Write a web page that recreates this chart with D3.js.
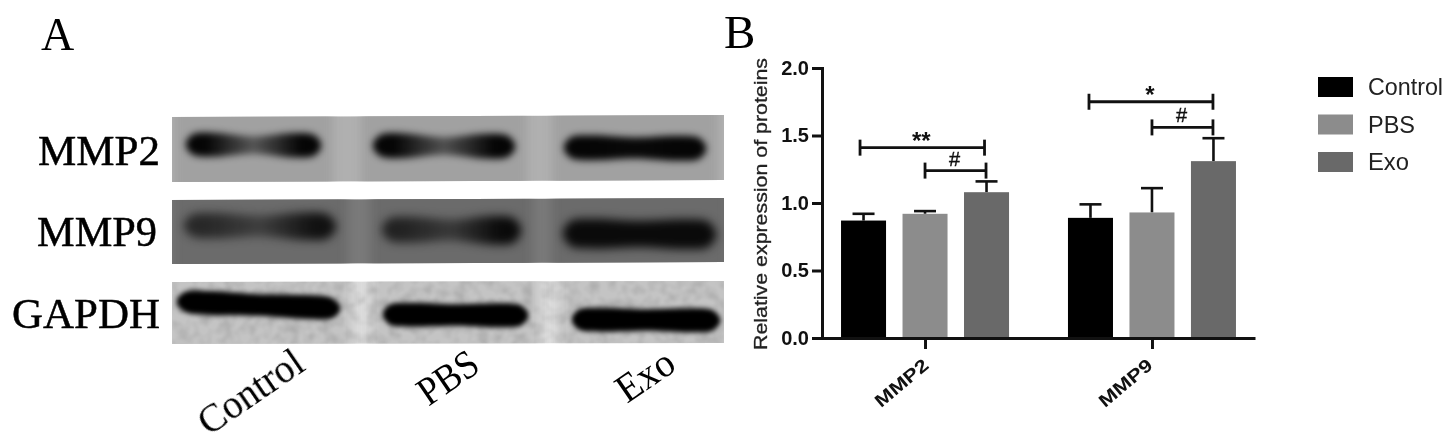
<!DOCTYPE html>
<html>
<head>
<meta charset="utf-8">
<script src="https://cdn.jsdelivr.net/npm/d3@7"></script>
<style>
html, body { margin: 0; padding: 0; background: #fff; }
svg { display: block; }
filter { color-interpolation-filters: sRGB; }
</style>
</head>
<body>
<div id="chart"></div>
<script>
// bar chart values
var proteins = ["MMP2", "MMP9"];
var groups = ["Control", "PBS", "Exo"];
var controlValues = [0.87, 0.89];
var pbsValues = [0.92, 0.93];
var exoValues = [1.08, 1.31];
var controlErrors = [0.05, 0.10];
var pbsErrors = [0.02, 0.18];
var exoErrors = [0.08, 0.17];
var groupColors = ["#000000", "#8c8c8c", "#696969"];
var yTicks = [0, 0.5, 1, 1.5, 2];

// significance brackets: protein, from group, level, mark
var bracketProteins = ["MMP2", "MMP2", "MMP9", "MMP9"];
var bracketFrom = ["Control", "PBS", "Control", "PBS"];
var bracketLevels = [1.41, 1.24, 1.75, 1.56];
var bracketMarks = ["**", "#", "*", "#"];

// blot band strength at left, middle and right of each lane (0-1)
var mmp2Bands = [[0.9, 0.42, 0.95], [1, 0.45, 1], [1, 0.85, 1]];
var mmp9Bands = [[0.6, 0.4, 0.8], [0.65, 0.45, 0.9], [1, 0.95, 1]];
var gapdhBands = [[1, 1, 1], [1, 1, 1], [1, 1, 1]];

var width = 1451,
    height = 445;

var svg = d3.select("#chart")
    .append("svg")
    .attr("width", width)
    .attr("height", height);

var defs = svg.append("defs");
defs.append("filter").attr("id", "soft")
    .attr("x", "-5%").attr("y", "-5%").attr("width", "110%").attr("height", "110%")
    .append("feGaussianBlur").attr("stdDeviation", 0.6);
defs.append("filter").attr("id", "patchBlur")
    .attr("x", "-20%").attr("y", "-20%").attr("width", "140%").attr("height", "140%")
    .append("feGaussianBlur").attr("stdDeviation", 5);
var grain = defs.append("filter").attr("id", "grain")
    .attr("x", "0").attr("y", "0").attr("width", "100%").attr("height", "100%");
grain.append("feTurbulence").attr("type", "fractalNoise")
    .attr("baseFrequency", 0.09).attr("numOctaves", 2).attr("seed", 4);
grain.append("feColorMatrix").attr("type", "matrix")
    .attr("values", "0 0 0 0 0  0 0 0 0 0  0 0 0 0 0  0 0 0 1.6 -0.62");
grain.append("feGaussianBlur").attr("stdDeviation", 1);

// panel A: blots
var panelA = svg.append("g").attr("filter", "url(#soft)");

var blots = [
    {name: "MMP2", bands: mmp2Bands, bg: "#b0b0b0", patch: "#a1a1a1", top: 117, bottom: 182, tilt: 2, blur: 3.6,
        cy: [145, 146, 148], x0: [186, 373, 564], x1: [321, 515, 706], maxT: 25, ink: "#050505",
        labelX: 160, labelY: 165, labelLen: 122},
    {name: "MMP9", bands: mmp9Bands, bg: "#7a7a7a", patch: "#6b6b6b", top: 200, bottom: 264, tilt: 2, blur: 5,
        cy: [226, 230, 234], x0: [184, 382, 563], x1: [336, 521, 716], maxT: 30, ink: "#0a0a0a",
        labelX: 157, labelY: 246, labelLen: 120},
    {name: "GAPDH", bands: gapdhBands, bg: "#dcdcdc", patch: "#c4c4c4", top: 282, bottom: 344, tilt: 1, blur: 2.4,
        cy: [305, 315, 320], x0: [177, 383, 572], x1: [340, 528, 720], maxT: 24, ink: "#000000",
        labelX: 160, labelY: 328, labelLen: 148}
];

var bandArea = d3.area()
    .x(function (d) { return d.x; })
    .y0(function (d) { return d.y - d.t / 2; })
    .y1(function (d) { return d.y + d.t / 2; })
    .curve(d3.curveCatmullRom);

blots.forEach(function (blot, b) {
    var outline = "M172," + blot.top + "L724," + (blot.top - blot.tilt) + "L724," + (blot.bottom - blot.tilt) + "L172," + blot.bottom + "Z";
    var g = panelA.append("g");
    g.append("path").attr("d", outline).attr("fill", blot.bg);

    var clipId = "clip" + b;
    defs.append("clipPath").attr("id", clipId).append("path").attr("d", outline);
    defs.append("filter").attr("id", "bandBlur" + b)
        .attr("x", "-20%").attr("y", "-80%").attr("width", "140%").attr("height", "260%")
        .append("feGaussianBlur").attr("stdDeviation", blot.blur);

    var inner = g.append("g").attr("clip-path", "url(#" + clipId + ")");

    inner.selectAll("rect.patch")
        .data(blot.bands)
        .enter()
        .append("rect")
        .attr("class", "patch")
        .attr("x", function (d, i) { return blot.x0[i] - 12; })
        .attr("y", blot.top - 12)
        .attr("width", function (d, i) { return blot.x1[i] - blot.x0[i] + 24; })
        .attr("height", blot.bottom - blot.top + 24)
        .attr("fill", blot.patch)
        .attr("filter", "url(#patchBlur)");

    if (blot.name == "GAPDH") {
        inner.append("rect")
            .attr("x", 172).attr("y", blot.top - 2)
            .attr("width", 552).attr("height", blot.bottom - blot.top + 2)
            .attr("fill", "#000").attr("opacity", 0.16)
            .attr("filter", "url(#grain)");
    }

    // darker band ends, paler waist
    blot.bands.forEach(function (d, i) {
        var gradId = "band" + b + "_" + i;
        var grad = defs.append("linearGradient").attr("id", gradId);
        [[0.15, d[0]], [0.5, d[1]], [0.85, d[2]]].forEach(function (s) {
            grad.append("stop")
                .attr("offset", s[0])
                .attr("stop-color", blot.ink)
                .attr("stop-opacity", Math.min(1, s[1] * 1.15));
        });
    });

    inner.selectAll("path.band")
        .data(blot.bands)
        .enter()
        .append("path")
        .attr("class", "band")
        .attr("d", function (d, i) {
            var x0 = blot.x0[i], x1 = blot.x1[i], w = x1 - x0;
            var slope = blot.name == "GAPDH" && i == 0 ? 7 : 1;
            var thick = function (s) { return (0.6 + 0.4 * s) * blot.maxT; };
            return bandArea([
                {x: x0, y: blot.cy[i] - slope * 0.5, t: 6},
                {x: x0 + w * 0.05, y: blot.cy[i] - slope * 0.45, t: thick(d[0]) * 0.85},
                {x: x0 + w * 0.2, y: blot.cy[i] - slope * 0.3, t: thick(d[0])},
                {x: x0 + w * 0.5, y: blot.cy[i], t: thick(d[1]) * 0.9},
                {x: x0 + w * 0.8, y: blot.cy[i] + slope * 0.3, t: thick(d[2])},
                {x: x0 + w * 0.95, y: blot.cy[i] + slope * 0.45, t: thick(d[2]) * 0.85},
                {x: x1, y: blot.cy[i] + slope * 0.5, t: 6}
            ]);
        })
        .attr("fill", function (d, i) { return "url(#band" + b + "_" + i + ")"; })
        .attr("filter", "url(#bandBlur" + b + ")");

    panelA.append("text")
        .attr("x", blot.labelX)
        .attr("y", blot.labelY)
        .attr("text-anchor", "end")
        .attr("font-family", "Liberation Serif")
        .attr("font-size", 42)
        .attr("textLength", blot.labelLen)
        .attr("lengthAdjust", "spacingAndGlyphs")
        .attr("fill", "#000")
        .attr("stroke", "#000")
        .attr("stroke-width", 0.5)
        .text(blot.name);
});

panelA.append("text")
    .attr("x", 41).attr("y", 50)
    .attr("font-family", "Liberation Serif").attr("font-size", 46)
    .attr("fill", "#000").text("A");

var laneLabelX = [307, 482, 678];
var laneLabelY = [369, 370, 369];
var laneLabelLen = [119, 65, 62];
panelA.selectAll("text.lane")
    .data(groups)
    .enter()
    .append("text")
    .attr("class", "lane")
    .attr("transform", function (d, i) {
        return "translate(" + laneLabelX[i] + "," + laneLabelY[i] + ") rotate(-34.5)";
    })
    .attr("text-anchor", "end")
    .attr("font-family", "Liberation Serif")
    .attr("font-size", 40)
    .attr("textLength", function (d, i) { return laneLabelLen[i]; })
    .attr("lengthAdjust", "spacingAndGlyphs")
    .attr("fill", "#000")
    .text(function (d) { return d; });

// panel B: bars
var panelB = svg.append("g").attr("filter", "url(#soft)");

panelB.append("text")
    .attr("x", 724).attr("y", 48)
    .attr("font-family", "Liberation Serif").attr("font-size", 47)
    .attr("fill", "#000").text("B");

var y = d3.scaleLinear().domain([0, 2]).range([338, 68]);
var x = d3.scalePoint().domain(proteins).range([822, 1255]).padding(0.454);
var xGroup = d3.scaleBand().domain(groups).range([-84, 84]).paddingInner(0.268);

var seriesValues = [controlValues, pbsValues, exoValues];
var seriesErrors = [controlErrors, pbsErrors, exoErrors];
var bars = [];
groups.forEach(function (group, g) {
    proteins.forEach(function (protein, p) {
        bars.push({group: group, protein: protein, color: groupColors[g],
            value: seriesValues[g][p], error: seriesErrors[g][p]});
    });
});

function barCenter(protein, group) {
    return x(protein) + xGroup(group) + xGroup.bandwidth() / 2;
}

panelB.selectAll("line.stem")
    .data(bars)
    .enter()
    .append("line")
    .attr("class", "stem")
    .attr("x1", function (d) { return barCenter(d.protein, d.group); })
    .attr("x2", function (d) { return barCenter(d.protein, d.group); })
    .attr("y1", function (d) { return y(d.value); })
    .attr("y2", function (d) { return y(d.value + d.error); })
    .attr("stroke", "#111")
    .attr("stroke-width", 2.6);

panelB.selectAll("line.cap")
    .data(bars)
    .enter()
    .append("line")
    .attr("class", "cap")
    .attr("x1", function (d) { return barCenter(d.protein, d.group) - 11; })
    .attr("x2", function (d) { return barCenter(d.protein, d.group) + 11; })
    .attr("y1", function (d) { return y(d.value + d.error); })
    .attr("y2", function (d) { return y(d.value + d.error); })
    .attr("stroke", "#111")
    .attr("stroke-width", 2.6);

panelB.selectAll("rect.bar")
    .data(bars)
    .enter()
    .append("rect")
    .attr("class", "bar")
    .attr("x", function (d) { return x(d.protein) + xGroup(d.group); })
    .attr("y", function (d) { return y(d.value); })
    .attr("width", xGroup.bandwidth())
    .attr("height", function (d) { return y(0) - y(d.value); })
    .attr("fill", function (d) { return d.color; });

var yAxis = d3.axisLeft(y)
    .tickValues(yTicks)
    .tickFormat(d3.format(".1f"))
    .tickSize(10)
    .tickPadding(3);
var xAxis = d3.axisBottom(x).tickSize(11).tickSizeOuter(0).tickFormat("");

panelB.append("g")
    .attr("transform", "translate(822,0)")
    .call(yAxis)
    .call(function (g) {
        g.selectAll("line, path").attr("stroke", "#111").attr("stroke-width", 3);
        g.selectAll("text")
            .attr("font-family", "Liberation Sans")
            .attr("font-weight", "bold")
            .attr("font-size", 20)
            .attr("fill", "#111");
    });

panelB.append("g")
    .attr("transform", "translate(0,338)")
    .call(xAxis)
    .call(function (g) {
        g.selectAll("line, path").attr("stroke", "#111").attr("stroke-width", 3);
    });

var proteinLabelShift = [5, 2];
panelB.selectAll("text.protein")
    .data(proteins)
    .enter()
    .append("text")
    .attr("class", "protein")
    .attr("transform", function (d, i) { return "translate(" + (x(d) + proteinLabelShift[i]) + ",367) rotate(-40)"; })
    .attr("text-anchor", "end")
    .attr("font-family", "Liberation Sans")
    .attr("font-weight", "bold")
    .attr("font-size", 18)
    .attr("textLength", 64)
    .attr("lengthAdjust", "spacingAndGlyphs")
    .attr("fill", "#111")
    .text(function (d) { return d; });

panelB.append("text")
    .attr("transform", "translate(767,350) rotate(-90)")
    .attr("font-family", "Liberation Sans")
    .attr("font-size", 19)
    .attr("textLength", 292)
    .attr("lengthAdjust", "spacingAndGlyphs")
    .attr("fill", "#222")
    .attr("stroke", "#222")
    .attr("stroke-width", 0.3)
    .text("Relative expression of proteins");

// significance brackets run to the Exo bar of the same protein
var bracketStartShift = [-3.5, 0, -1.5, 0];
var bracketEndShift = [-2, -0.5, -0.5, -0.5];
bracketLevels.forEach(function (level, i) {
    var x0 = barCenter(bracketProteins[i], bracketFrom[i]) + bracketStartShift[i];
    var x1 = barCenter(bracketProteins[i], "Exo") + bracketEndShift[i];
    var by = y(level);
    var isHash = bracketMarks[i] == "#";
    var g = panelB.append("g").attr("stroke", "#111").attr("stroke-width", 2.8);
    g.append("line").attr("x1", x0).attr("x2", x1).attr("y1", by).attr("y2", by);
    g.append("line").attr("x1", x0).attr("x2", x0).attr("y1", by - 8).attr("y2", by + 8);
    g.append("line").attr("x1", x1).attr("x2", x1).attr("y1", by - 8).attr("y2", by + 8);
    panelB.append("text")
        .attr("x", (x0 + x1) / 2 - 1)
        .attr("y", by + (isHash ? -5 : 1))
        .attr("text-anchor", "middle")
        .attr("font-family", "Liberation Sans")
        .attr("font-weight", isHash ? "normal" : "bold")
        .attr("font-size", isHash ? 20 : 24)
        .attr("stroke", "#111")
        .attr("stroke-width", isHash ? 0.4 : 0)
        .attr("fill", "#111")
        .text(bracketMarks[i]);
});

// legend
var legendLen = [75, 47, 41];
var legend = panelB.selectAll("g.legend")
    .data(groups)
    .enter()
    .append("g")
    .attr("class", "legend")
    .attr("transform", function (d, i) { return "translate(1318," + (77 + i * 37.5) + ")"; });

legend.append("rect")
    .attr("width", 35)
    .attr("height", 20)
    .attr("fill", function (d, i) { return groupColors[i]; });

legend.append("text")
    .attr("x", 50)
    .attr("y", 18)
    .attr("font-family", "Liberation Sans")
    .attr("font-size", 24)
    .attr("textLength", function (d, i) { return legendLen[i]; })
    .attr("lengthAdjust", "spacingAndGlyphs")
    .attr("fill", "#222")
    .text(function (d) { return d; });
</script>
</body>
</html>
